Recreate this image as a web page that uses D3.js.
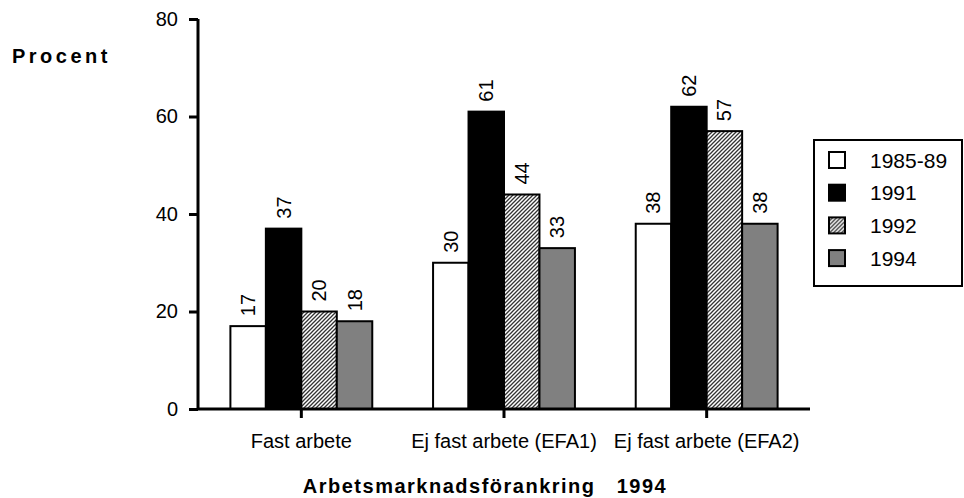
<!DOCTYPE html>
<html>
<head>
<meta charset="utf-8">
<script src="https://cdn.jsdelivr.net/npm/d3@7"></script>
<style>
  body { margin: 0; background: #fff; }
  text { font-family: Arial, "Liberation Sans", sans-serif; fill: #000; }
</style>
</head>
<body>
<div id="chart-holder"></div>
<script>
      // chart data
      var categories = ["Fast arbete", "Ej fast arbete (EFA1)", "Ej fast arbete (EFA2)"];
      var series = ["1985-89", "1991", "1992", "1994"];
      var values1985 = [17, 30, 38];
      var values1991 = [37, 61, 62];
      var values1992 = [20, 44, 57];
      var values1994 = [18, 33, 38];
      var yTicks = [0, 20, 40, 60, 80];

      var seriesValues = [values1985, values1991, values1992, values1994];
      var fills = ["#ffffff", "#000000", "url(#hatch)", "#808080"];

      var width = 964, height = 498;

      var svg = d3
        .select("#chart-holder")
        .append("svg")
        .attr("width", width)
        .attr("height", height)
      ;

      // hatch pattern for 1992
      var pattern = svg.append("defs")
        .append("pattern")
        .attr("id", "hatch")
        .attr("patternUnits", "userSpaceOnUse")
        .attr("width", 4)
        .attr("height", 4)
      ;
      pattern.append("rect").attr("width", 4).attr("height", 4).attr("fill", "#fff");
      pattern.append("path")
        .attr("d", "M-1,1 l2,-2 M0,4 l4,-4 M3,5 l2,-2")
        .attr("stroke", "#333")
        .attr("stroke-width", 1.3)
      ;

      // scales
      var x0 = d3.scaleBand()
        .domain(categories)
        .range([200, 808])
        .paddingInner(0.3)
        .paddingOuter(0.15)
      ;
      var x1 = d3.scaleBand()
        .domain(series)
        .range([0, x0.bandwidth()])
      ;
      var y = d3.scaleLinear()
        .domain([0, 80])
        .range([409, 19])
      ;

      // bars, one group per series
      var barGroups = svg.selectAll("g.series")
        .data(series)
        .enter()
        .append("g")
        .attr("class", "series")
      ;

      barGroups.each(function(s, si) {
        var g = d3.select(this);
        var vals = seriesValues[si];
        g.selectAll("rect")
          .data(categories)
          .enter()
          .append("rect")
          .attr("x", function(c) { return x0(c) + x1(s); })
          .attr("y", function(c, i) { return y(vals[i]); })
          .attr("width", x1.bandwidth())
          .attr("height", function(c, i) { return y(0) - y(vals[i]); })
          .attr("fill", fills[si])
          .attr("stroke", "#000")
          .attr("stroke-width", 2)
        ;
        // value labels, rotated
        g.selectAll("text")
          .data(categories)
          .enter()
          .append("text")
          .attr("transform", function(c, i) {
            var cx = x0(c) + x1(s) + x1.bandwidth() / 2;
            return "translate(" + cx + "," + (y(vals[i]) - 10) + ") rotate(-90)";
          })
          .attr("dy", "0.35em")
          .attr("font-size", 20)
          .text(function(c, i) { return vals[i]; })
        ;
      });

      // y axis
      var yAxis = svg.append("g")
        .attr("transform", "translate(198,0)")
        .call(d3.axisLeft(y).tickValues(yTicks).tickSize(9).tickPadding(11))
      ;
      yAxis.selectAll("path, line").attr("stroke", "#000").attr("stroke-width", 3);
      yAxis.select(".domain").attr("d", "M0," + y(80) + "V" + y(0));
      yAxis.selectAll("text")
        .attr("font-size", 20)
        .attr("font-family", "Arial, 'Liberation Sans', sans-serif")
      ;

      // x axis
      var xAxis = svg.append("g")
        .attr("transform", "translate(0," + y(0) + ")")
        .call(d3.axisBottom(x0).tickSize(9).tickPadding(16))
      ;
      xAxis.selectAll("path, line").attr("stroke", "#000").attr("stroke-width", 3);
      xAxis.select(".domain").attr("d", "M197,0H810");
      xAxis.selectAll("text")
        .attr("font-size", 20)
        .attr("font-family", "Arial, 'Liberation Sans', sans-serif")
      ;

      // axis titles
      svg.append("text")
        .attr("x", 12)
        .attr("y", 63)
        .attr("font-size", 20)
        .attr("font-weight", "bold")
        .attr("letter-spacing", 3.5)
        .text("Procent")
      ;
      svg.append("text")
        .attr("x", 485)
        .attr("y", 493)
        .attr("text-anchor", "middle")
        .attr("font-size", 20)
        .attr("font-weight", "bold")
        .attr("letter-spacing", 1.5)
        .attr("xml:space", "preserve")
        .style("white-space", "pre")
        .text("Arbetsmarknadsförankring   1994")
      ;

      // legend
      var legend = svg.append("g").attr("class", "legend");
      legend.append("rect")
        .attr("x", 814)
        .attr("y", 140)
        .attr("width", 148)
        .attr("height", 146)
        .attr("fill", "#fff")
        .attr("stroke", "#000")
        .attr("stroke-width", 2)
      ;
      var items = legend.selectAll("g.item")
        .data(series)
        .enter()
        .append("g")
        .attr("class", "item")
        .attr("transform", function(d, i) { return "translate(829," + (160 + i * 32.7) + ")"; })
      ;
      items.append("rect")
        .attr("x", 0)
        .attr("y", -8)
        .attr("width", 16)
        .attr("height", 16)
        .attr("fill", function(d, i) { return fills[i]; })
        .attr("stroke", "#000")
        .attr("stroke-width", 2)
      ;
      items.append("text")
        .attr("x", 41)
        .attr("dy", "0.36em")
        .attr("font-size", 21)
        .text(function(d) { return d; })
      ;
</script>
</body>
</html>
